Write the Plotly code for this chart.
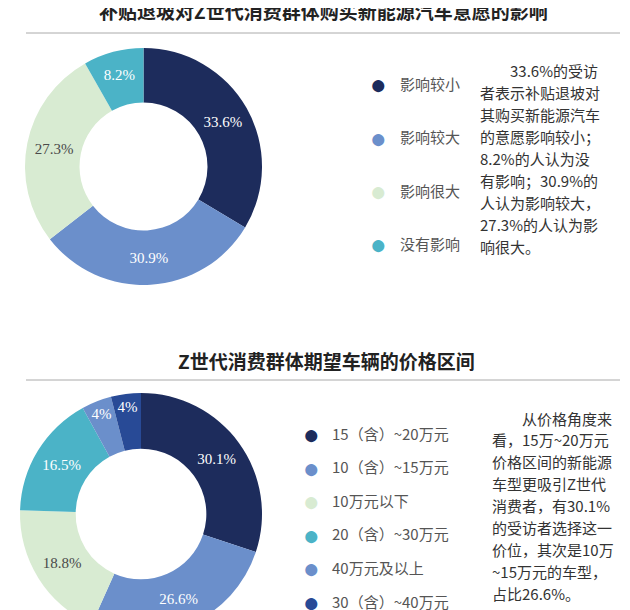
import plotly.graph_objects as go

H = 640  # taller than the window, so the lower donut is cut off like the reference

top_labels = ['影响较小', '影响较大', '影响很大', '没有影响']
top_values = [33.6, 30.9, 27.3, 8.2]
top_colors = ['#1d2c5c', '#6b8fcb', '#d8ebd2', '#4bb3c7']
top_text_colors = ['white', 'white', '#4a4a4a', 'white']

bot_labels = ['15（含）~20万元', '10（含）~15万元', '10万元以下',
              '20（含）~30万元', '40万元及以上', '30（含）~40万元']
bot_values = [30.1, 26.6, 18.8, 16.5, 4, 4]
bot_colors = ['#1d2c5c', '#6b8fcb', '#d8ebd2', '#4bb3c7', '#6b8fcb', '#284a96']
bot_text_colors = ['white', 'white', '#4a4a4a', 'white', 'white', 'white']

top_para = ['　　33.6%的受访', '者表示补贴退坡对', '其购买新能源汽车', '的意愿影响较小；',
            '8.2%的人认为没', '有影响；30.9%的', '人认为影响较大，', '27.3%的人认为影', '响很大。']
bot_para = ['　　从价格角度来', '看，15万~20万元', '价格区间的新能源', '车型更吸引Z世代',
            '消费者，有30.1%', '的受访者选择这一', '价位，其次是10万', '~15万元的车型，', '占比26.6%。']


def py(p):
    return 1 - p / H


fig = go.Figure()
fig.add_trace(go.Pie(
    values=top_values, labels=top_labels, hole=0.54, sort=False, direction='clockwise',
    marker=dict(colors=top_colors, line=dict(width=0)),
    texttemplate='%{value}%', textposition='inside', insidetextorientation='horizontal',
    textfont=dict(color=top_text_colors, size=15, family='Liberation Sans Narrow'),
    domain=dict(x=[14 / 630, 257 / 630], y=[py(277), py(40)]), showlegend=False))
fig.add_trace(go.Pie(
    values=bot_values, labels=bot_labels, hole=0.54, sort=False, direction='clockwise',
    marker=dict(colors=bot_colors, line=dict(width=0)),
    texttemplate='%{value}%', textposition='inside', insidetextorientation='horizontal',
    textfont=dict(color=bot_text_colors, size=15, family='Liberation Sans Narrow'),
    domain=dict(x=[12 / 630, 254 / 630], y=[py(627), py(385)]), showlegend=False))

ann = []
font = 'Noto Sans CJK SC'
ann.append(dict(x=0.5, y=py(2), text='<b>补贴退坡对Z世代消费群体购买新能源汽车意愿的影响</b>',
                font=dict(size=19, color='#222', family=font)))
ann.append(dict(x=318 / 630, y=py(352), text='<b>Z世代消费群体期望车辆的价格区间</b>',
                font=dict(size=19, color='#222', family=font)))

for i, (lab, c) in enumerate(zip(top_labels, top_colors)):
    yy = py(75 + i * 53.5)
    ann.append(dict(x=370 / 630, y=yy, text='●', font=dict(size=28, color=c)))
    ann.append(dict(x=390 / 630, y=yy, xanchor='left', text=lab,
                    font=dict(size=15, color='#555', family=font)))
for i, (lab, c) in enumerate(zip(bot_labels, bot_colors)):
    yy = py(425 + i * 33.6)
    ann.append(dict(x=303 / 630, y=yy, text='●', font=dict(size=28, color=c)))
    ann.append(dict(x=322 / 630, y=yy, xanchor='left', text=lab,
                    font=dict(size=15, color='#555', family=font)))

for i, t in enumerate(top_para):
    ann.append(dict(x=470 / 630, y=py(63 + i * 21.9), xanchor='left', text=t,
                    font=dict(size=15, color='#333', family=font)))
for i, t in enumerate(bot_para):
    ann.append(dict(x=482 / 630, y=py(410 + i * 21.9), xanchor='left', text=t,
                    font=dict(size=15, color='#333', family=font)))

for a in ann:
    a.update(xref='paper', yref='paper', showarrow=False)
    a.setdefault('xanchor', 'center')
    a.setdefault('yanchor', 'middle')

shapes = [dict(type='line', xref='paper', yref='paper', x0=18 / 630, x1=612 / 630,
               y0=py(y), y1=py(y), line=dict(color='#aaa', width=1)) for y in (25, 372)]

fig.update_layout(width=630, height=H, margin=dict(l=0, r=0, t=0, b=0),
                  paper_bgcolor='white', annotations=ann, shapes=shapes)
fig.write_html('out.html')
